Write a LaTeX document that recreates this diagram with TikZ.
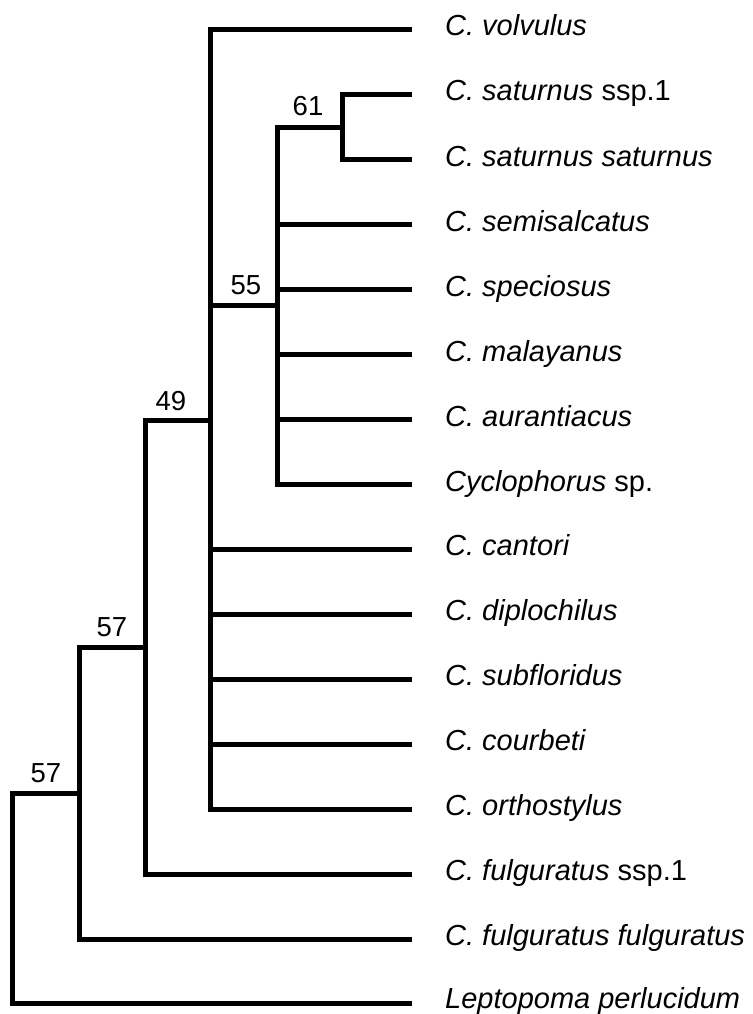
\documentclass[tikz,border=0pt]{standalone}
\usepackage{fontspec}
\setmainfont{Liberation Sans}
\begin{document}
\begin{tikzpicture}[x=1pt,y=-1pt,
  branch/.style={line width=5pt, line join=miter, line cap=butt, black},
  leaflab/.style={anchor=base west, inner sep=0pt, font=\fontsize{29}{32}\selectfont},
  bsup/.style={anchor=base, inner sep=0pt, font=\fontsize{27.5}{32}\selectfont}]
\useasboundingbox (0,0) rectangle (752,1014);
% leaf line ends
\foreach \i in {0,...,15} { \coordinate (L\i) at (412, 30+64.93*\i); }
% internal nodes
\coordinate (n61) at (342.5, 127.5);
\coordinate (n55) at (277.5, 305);
\coordinate (nbig) at (210, 420);
\coordinate (n49) at (145, 647.5);
\coordinate (n57) at (79, 793.5);
\coordinate (r) at (12.5, 899);
% branches
\draw[branch] (L1) -| (n61) |- (L2);
\draw[branch] (n61) -| (n55) |- (L7);
\foreach \i in {3,4,5,6} { \draw[branch] (n55 |- L\i) -- (L\i); }
\draw[branch] (L0) -| (nbig) |- (L12);
\draw[branch] (nbig |- n55) -- (n55);
\foreach \i in {8,9,10,11} { \draw[branch] (nbig |- L\i) -- (L\i); }
\draw[branch] (nbig) -| (n49) |- (L13);
\draw[branch] (n49) -| (n57) |- (L14);
\draw[branch] (n57) -| (r) |- (L15);
% support values
\node[bsup] (s61) at (308, 116) {61};
\node[bsup] (s55) at (246, 294) {55};
\node[bsup] (s49) at (171, 410) {49};
\node[bsup] (s57a) at (112, 636.5) {57};
\node[bsup] (s57b) at (46, 782) {57};
% leaf labels
\node[leaflab] (t0) at (445, 36) {\textit{C. volvulus}};
\node[leaflab] (t1) at (445, 101) {\textit{C. saturnus} ssp.1};
\node[leaflab] (t2) at (445, 166) {\textit{C. saturnus saturnus}};
\node[leaflab] (t3) at (445, 231) {\textit{C. semisalcatus}};
\node[leaflab] (t4) at (445, 296) {\textit{C. speciosus}};
\node[leaflab] (t5) at (445, 361) {\textit{C. malayanus}};
\node[leaflab] (t6) at (445, 426) {\textit{C. aurantiacus}};
\node[leaflab] (t7) at (445, 491) {\textit{Cyclophorus} sp.};
\node[leaflab] (t8) at (445, 555.5) {\textit{C. cantori}};
\node[leaflab] (t9) at (445, 620.5) {\textit{C. diplochilus}};
\node[leaflab] (t10) at (445, 685.5) {\textit{C. subfloridus}};
\node[leaflab] (t11) at (445, 750.5) {\textit{C. courbeti}};
\node[leaflab] (t12) at (445, 815) {\textit{C. orthostylus}};
\node[leaflab] (t13) at (445, 880) {\textit{C. fulguratus} ssp.1};
\node[leaflab] (t14) at (445, 945) {\textit{C. fulguratus fulguratus}};
\node[leaflab] (t15) at (445, 1008) {\textit{Leptopoma perlucidum}};
\end{tikzpicture}
\end{document}
